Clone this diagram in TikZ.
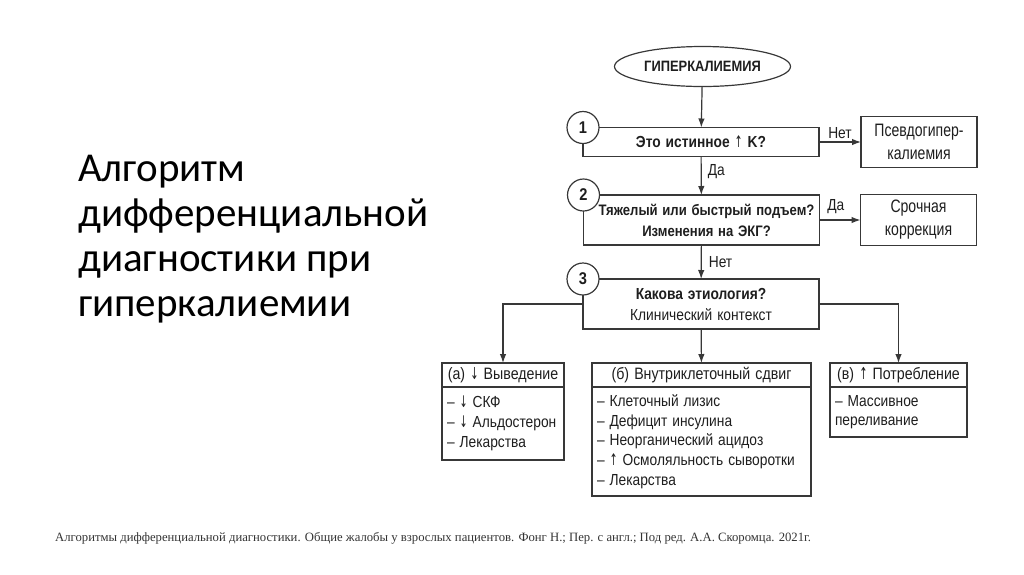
\documentclass[tikz,border=0pt]{standalone}
\usepackage{fontspec}
\setmainfont{Liberation Sans}
\newfontfamily\diag[FakeStretch=0.86, WordSpace=1.3]{Liberation Sans}
\newfontfamily\diagn[FakeStretch=0.78, WordSpace=1.3]{Liberation Sans}
\newfontfamily\arrowfont[FakeStretch=0.6]{DejaVu Sans}
\newfontfamily\slidefont{Carlito}
\newfontfamily\srcfont{Liberation Serif}
\newcommand{\upa}{{\arrowfont\mdseries ↑}}
\newcommand{\dna}{{\arrowfont\mdseries ↓}}
\usetikzlibrary{shapes.geometric, arrows.meta, positioning}
\definecolor{ln}{HTML}{383838}
\definecolor{tx}{HTML}{1E1E1E}
\tikzset{
  font={\diag\fontsize{16}{19.7}\selectfont},
  box/.style={draw=ln, shape=rectangle, line width=1.2pt, outer sep=0pt, align=center, text=tx},
  qbox/.style={box, minimum width=236pt, minimum height=50pt, font={\diag\fontsize{16}{21}\selectfont}},
  sidebox/.style={box, minimum width=116pt, minimum height=51pt, font={\diagn\fontsize{18}{23}\selectfont}},
  hdbox/.style={box, minimum height=24pt, inner sep=0pt, font={\diag\fontsize{16.5}{20}\selectfont}},
  lsbox/.style={box, align=flush left, inner xsep=5pt, inner ysep=0pt},
  numc/.style={draw=ln, shape=circle, line width=1.2pt, fill=white, minimum size=32pt, inner sep=0pt, text=tx, font={\diag\bfseries\fontsize{17}{18}\selectfont}},
  conn/.style={-{Latex[length=9pt, width=6.5pt]}, draw=ln, line width=1.2pt},
  lbl/.style={text=tx, inner sep=3pt, font={\diag\fontsize{16}{18}\selectfont}}
}
\begin{document}
\begin{tikzpicture}[x=1pt, y=-1pt]
\useasboundingbox (0,0) rectangle (1024,574);

\node (tt) [anchor=north west, inner sep=0pt, align=left, text=black, font={\slidefont\fontsize{41}{45}\selectfont}] at (78,155) {Алгоритм\\дифференциальной\\диагностики при\\гиперкалиемии};

\node (hk) [draw=ln, shape=ellipse, line width=1.2pt, minimum width=176pt, minimum height=40pt, inner sep=0pt, text=tx, font={\diag\bfseries\fontsize{15}{18}\selectfont}] at (702.5,66.5) {ГИПЕРКАЛИЕМИЯ};

\node (q1) [qbox, minimum height=29pt] at (701,142) {\bfseries Это истинное \upa{} K?};
\node (ps) [sidebox] at (919,142) {Псевдогипер-\\калиемия};
\node (q2) [qbox, inner xsep=2pt, font={\diag\bfseries\fontsize{15.2}{21}\selectfont}] at (701.5,220) {\hspace*{10pt}Тяжелый или быстрый подъем?\\\hspace*{10pt}Изменения на ЭКГ?};
\node (sk) [sidebox] at (918.5,220) {Срочная\\коррекция};
\node (q3) [qbox] at (701,304) {\bfseries Какова этиология?\\Клинический контекст};

\node (n1) [numc] at (q1.north west) {1};
\node (n2) [numc] at (q2.north west) {2};
\node (n3) [numc] at (q3.north west) {3};

\node (ah) [hdbox, minimum width=122pt] at (503,375) {(а) \dna{} Выведение};
\node (ab) [lsbox, text width=112pt, minimum height=73pt, below=0pt of ah] {– \dna{} СКФ\\– \dna{} Альдостерон\\– Лекарства};
\node (bh) [hdbox, minimum width=219pt] at (701.5,375) {(б) Внутриклеточный сдвиг};
\node (bb) [lsbox, text width=209pt, minimum height=109pt, below=0pt of bh] {– Клеточный лизис\\– Дефицит инсулина\\– Неорганический ацидоз\\– \upa{} Осмоляльность сыворотки\\– Лекарства};
\node (ch) [hdbox, minimum width=137pt] at (898.5,375) {(в) \upa{} Потребление};
\node (cb) [lsbox, text width=127pt, minimum height=50pt, below=0pt of ch] {– Массивное\\переливание};

\draw[conn] (hk) -- (q1);
\draw[conn] (q1) -- node[lbl, above] {Нет} (ps);
\draw[conn] (q1) -- node[lbl, right, pos=0.4, xshift=3pt] {Да} (q2);
\draw[conn] (q2) -- node[lbl, above, pos=0.4, yshift=3pt] {Да} (sk);
\draw[conn] (q2) -- node[lbl, right, xshift=4pt] {Нет} (q3);
\draw[conn] (q3.west) -| (ah.north);
\draw[conn] (q3) -- (bh);
\draw[conn] (q3.east) -| (ch.north);

\node (src) [anchor=base west, inner sep=0pt, text=black!80, font={\srcfont\fontsize{12.7}{14}\selectfont}] at (55,541) {Алгоритмы дифференциальной диагностики. Общие жалобы у взрослых пациентов. Фонг Н.; Пер. с англ.; Под ред. А.А. Скоромца. 2021г.};
\end{tikzpicture}
\end{document}
